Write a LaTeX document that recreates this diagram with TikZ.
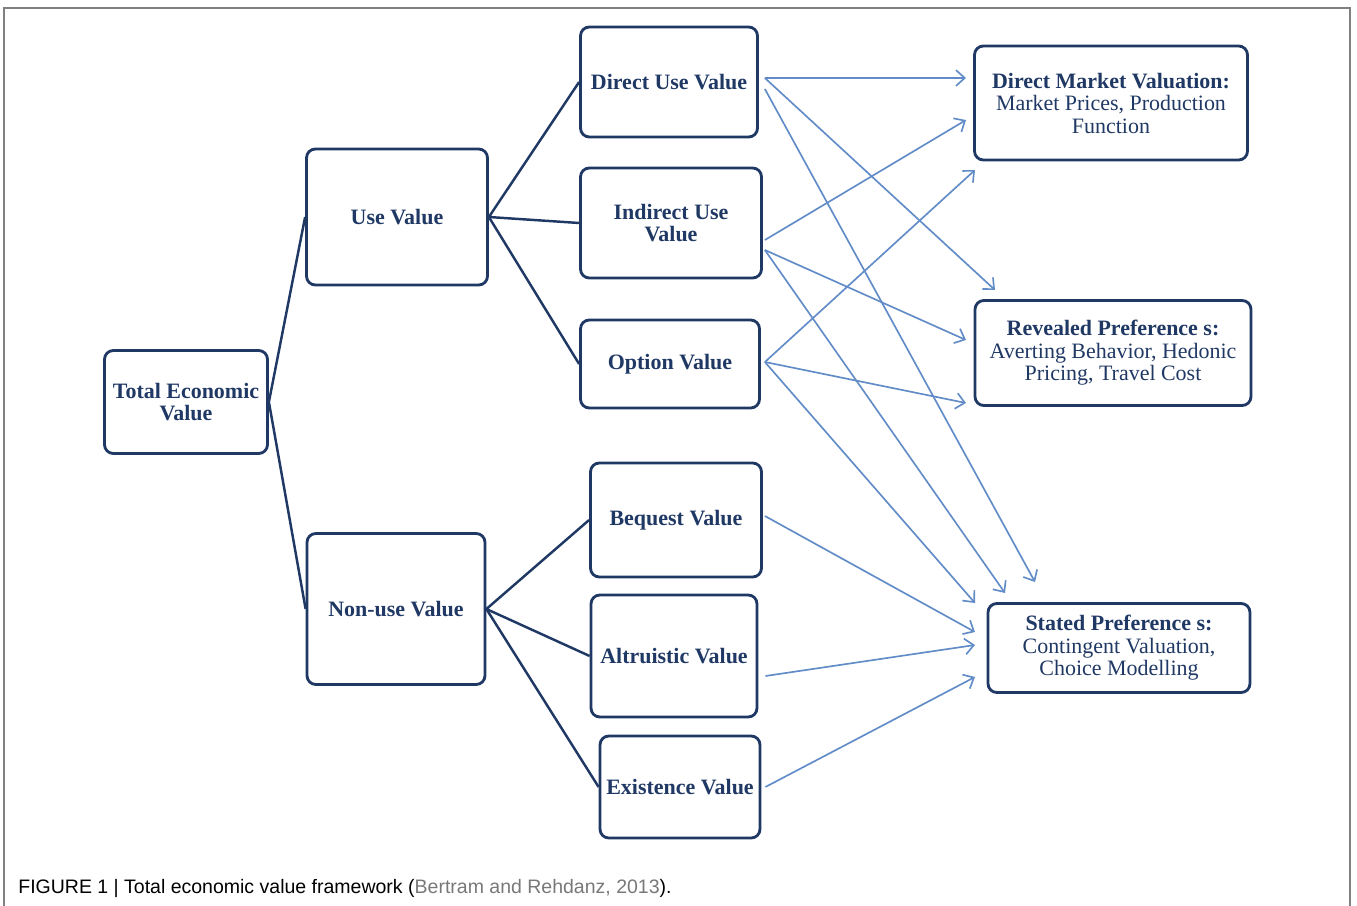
\documentclass[tikz,border=0pt]{standalone}
\usepackage{fontspec}
\setmainfont{Liberation Serif}
\newfontfamily\capfont{Liberation Sans}
\usepackage{tikz}
\usetikzlibrary{arrows.meta}

\definecolor{navy}{RGB}{31,56,100}
\definecolor{linkblue}{RGB}{98,140,199}
\definecolor{citegray}{RGB}{120,120,120}

\begin{document}
\begin{tikzpicture}[
  x=0.02cm, y=-0.02cm,
  box/.style={draw=navy, line width=1.6pt, rounded corners=5pt, inner sep=2pt,
    align=center, text=navy, font=\fontsize{12.5}{12.8}\selectfont},
  treeline/.style={draw=navy, line width=1.4pt},
  link/.style={draw=linkblue, line width=0.95pt, -{Straight Barb[length=5pt,width=9pt]}},
  captext/.style={anchor=west, inner sep=0pt, font=\capfont\fontsize{11.1}{13}\selectfont}
]
\useasboundingbox (0,0) rectangle (1357,906);

% frame
\draw[gray, line width=1pt] (4,8) rectangle (1350,930);

% ===================== Tree =====================
% root
\node[box, minimum width=3.26cm, minimum height=2.06cm] (TEV) at (186,402) {\textbf{Total Economic}\\\textbf{Value}};

% second level
\node[box, minimum width=3.62cm, minimum height=2.72cm] (UV)  at (397,217) {\textbf{Use Value}};
\node[box, minimum width=3.56cm, minimum height=3.02cm] (NUV) at (396,609) {\textbf{Non-use Value}};

% use values
\node[box, minimum width=3.54cm, minimum height=2.20cm] (DUV) at (669,82)  {\textbf{Direct Use Value}};
\node[box, minimum width=3.62cm, minimum height=2.20cm] (IUV) at (671,223) {\textbf{Indirect Use}\\\textbf{Value}};
\node[box, minimum width=3.58cm, minimum height=1.76cm] (OV)  at (670,364) {\textbf{Option Value}};

% non-use values
\node[box, minimum width=3.42cm, minimum height=2.28cm] (BV) at (676,520) {\textbf{Bequest Value}};
\node[box, minimum width=3.32cm, minimum height=2.44cm] (AV) at (674,656) {\textbf{Altruistic Value}};
\node[box, minimum width=3.20cm, minimum height=2.04cm] (EV) at (680,787) {\textbf{Existence Value}};

% tree lines
\draw[treeline] (UV.west)--(TEV.east)--(NUV.west);
\draw[treeline] (DUV.west)--(UV.east)--(IUV.west);
\draw[treeline] (UV.east)--(OV.west);
\draw[treeline] (BV.west)--(NUV.east)--(AV.west);
\draw[treeline] (NUV.east)--(EV.west);

% ===================== Valuation methods =====================
\node[box, minimum width=5.46cm, minimum height=2.28cm] (DMV) at (1111,103)
  {\textbf{Direct Market Valuation:}\\Market Prices, Production\\Function};
\node[box, minimum width=5.52cm, minimum height=2.10cm] (RP) at (1113,353)
  {\textbf{Revealed Preference s:}\\Averting Behavior, Hedonic\\Pricing, Travel Cost};
\node[box, minimum width=5.24cm, minimum height=1.78cm] (SP) at (1119,648)
  {\textbf{Stated Preference s:}\\Contingent Valuation,\\Choice Modelling};

% arrow ends
\coordinate (DMVa) at (966,78);
\coordinate (DMVb) at (966,120);
\coordinate (DMVc) at (975,170);
\coordinate (RPa) at (995,290);
\coordinate (RPb) at (966,340);
\coordinate (RPc) at (966,403);
\coordinate (SPa) at (975,603);
\coordinate (SPb) at (1005,593);
\coordinate (SPc) at (1035,582);
\coordinate (SPd) at (975,632);
\coordinate (SPe) at (975,645);
\coordinate (SPf) at (975,677);

% links
\draw[link] ([shift={(6,-4)}]DUV.east) -- (DMVa);
\draw[link] ([shift={(6,-4)}]DUV.east) -- (RPa);
\draw[link] ([shift={(6,7)}]DUV.east) -- (SPc);

\draw[link] ([shift={(2,17)}]IUV.east) -- (DMVb);
\draw[link] ([shift={(2,27)}]IUV.east) -- (RPb);
\draw[link] ([shift={(2,27)}]IUV.east) -- (SPb);

\draw[link] ([shift={(4,-2)}]OV.east) -- (DMVc);
\draw[link] ([shift={(4,-2)}]OV.east) -- (RPc);
\draw[link] ([shift={(4,-2)}]OV.east) -- (SPa);

\draw[link] ([shift={(2,-4)}]BV.east) -- (SPd);
\draw[link] ([shift={(7,20)}]AV.east) -- (SPe);
\draw[link] ([shift={(4,0)}]EV.east) -- (SPf);

% caption
\node[captext] (caption) at (18,888) {FIGURE 1 | Total economic value framework (\textcolor{citegray}{Bertram and Rehdanz, 2013}).};

\end{tikzpicture}
\end{document}
